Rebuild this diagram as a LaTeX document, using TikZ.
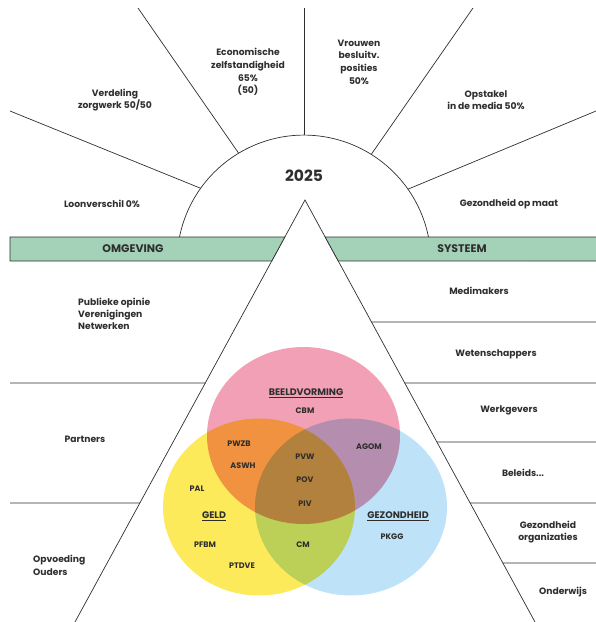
\documentclass[tikz,border=0pt]{standalone}
\usepackage{fontspec}
\setmainfont{Poppins}
\usetikzlibrary{calc}
\definecolor{ink}{HTML}{2E2E2E}
\definecolor{bandgreen}{HTML}{A3D2B8}
\definecolor{vpink}{HTML}{F2A0B5}
\definecolor{vyellow}{HTML}{FDEA5A}
\definecolor{vblue}{HTML}{BEE2F7}

\begin{document}
\begin{tikzpicture}[x=1pt,y=-1pt]
		\tikzstyle{rule}=[draw=ink, line width=0.7pt]
		\tikzstyle{band}=[rule, fill=bandgreen]
		\tikzstyle{txt}=[font=\fontsize{9.2}{12.7}\selectfont\bfseries, text=ink, align=center, inner sep=0pt]
		\tikzstyle{head}=[font=\fontsize{11}{13}\selectfont\bfseries, text=ink, inner sep=0pt]
		\tikzstyle{venn}=[font=\fontsize{8}{9}\selectfont\bfseries, text=ink, inner sep=0pt]
		\tikzstyle{venntitle}=[font=\fontsize{9.5}{11}\selectfont\bfseries, text=ink, inner sep=0pt]
		
		\useasboundingbox (0,0) rectangle (596,622);
		\clip (0,0) rectangle (596,622);
		
		% Halve cirkel (2025)
		\coordinate (c) at (304,262);
		\draw [rule] (179.5,237) arc[start angle=-168.6, end angle=-11.4, radius=127];
		\node[font=\fontsize{15.5}{17}\selectfont\bfseries, text=ink] (year) at (304,176) {2025};
		
		% Stralen
		\draw [rule] (c) ++(-90:127) -- (304,8);
		\draw [rule] (c) ++(-121:127) -- (138,8);
		\draw [rule] (c) ++(-144.5:127) -- (10,111);
		\draw [rule] (c) ++(-58:127) -- (473,8);
		\draw [rule] (c) ++(-35:127) -- (596,111);
		
		\node[txt] (econ) at (248,72) {Economische\\zelfstandigheid\\65\%\\(50)};
		\node[txt] (verdeling) at (115,100) {Verdeling\\zorgwerk 50/50};
		\node[txt] (loon) at (102,204) {Loonverschil 0\%};
		\node[txt] (vrouwen) at (359,62) {Vrouwen\\besluitv.\\posities\\50\%};
		\node[txt] (opstakel) at (486,100) {Opstakel\\in de media 50\%};
		\node[txt] (gezond) at (509,204) {Gezondheid op maat};
		
		% Driehoek
		\coordinate (apex) at (305,200);
		\coordinate (bl) at (75,622);
		\coordinate (br) at (535,622);
		\draw [rule] (bl) -- (apex) -- (br);
		
		% Banden
		\draw [band] (10,237) -- ($(apex)!0.0877!(bl)$) -- ($(apex)!0.1445!(bl)$) -- (10,261) -- cycle;
		\draw [band] ($(apex)!0.0877!(br)$) -- (600,237) -- (600,261) -- ($(apex)!0.1445!(br)$) -- cycle;
		\node[head] (omgeving) at (133,249) {OMGEVING};
		\node[head] (systeem) at (462,249) {SYSTEEM};
		
		% Links (omgeving)
		\draw [rule] (10,383) -- ($(apex)!0.4336!(bl)$);
		\draw [rule] (10,503) -- ($(apex)!0.7180!(bl)$);
		\node[txt, anchor=west, align=left, font=\fontsize{9.2}{12}\selectfont\bfseries] (publiek) at (78,314) {Publieke opinie\\Verenigingen\\Netwerken};
		\node[txt] (partners) at (85,439) {Partners};
		\node[txt, anchor=west, align=left] (opvoeding) at (33,565) {Opvoeding\\Ouders};
		
		% Rechts (systeem)
		\draw [rule] ($(apex)!0.2891!(br)$) -- (596,322);
		\draw [rule] ($(apex)!0.4336!(br)$) -- (596,383);
		\draw [rule] ($(apex)!0.5735!(br)$) -- (596,442);
		\draw [rule] ($(apex)!0.7180!(br)$) -- (596,503);
		\draw [rule] ($(apex)!0.8602!(br)$) -- (596,563);
		\node[txt] (medimakers) at (479,291) {Medimakers};
		\node[txt] (weten) at (496,354) {Wetenschappers};
		\node[txt] (werkgevers) at (509,410) {Werkgevers};
		\node[txt] (beleids) at (523,473) {Beleids...};
		\node[txt] (gezorg) at (548,532) {Gezondheid\\organizaties};
		\node[txt] (onderwijs) at (563,592) {Onderwijs};
		
		% Venn
		\begin{scope}[blend group=multiply]
		\fill [vpink] (303.5,435.5) ellipse[x radius=96.5, y radius=88.5];
		\fill [vyellow] (259,507) ellipse[x radius=96, y radius=88.5];
		\fill [vblue] (351,507) ellipse[x radius=96, y radius=88.5];
		\end{scope}
		
		\node[venntitle] (beeld) at (306,393) {\underline{BEELDVORMING}};
		\node[venn] (cbm) at (305,411) {CBM};
		\node[venn] (pwzb) at (239,444) {PWZB};
		\node[venn] (aswh) at (243,466) {ASWH};
		\node[venn] (agom) at (369,447) {AGOM};
		\node[venn] (pvw) at (305,457) {PVW};
		\node[venn] (pov) at (305,480) {POV};
		\node[venn] (piv) at (305,504) {PIV};
		\node[venn] (pal) at (197,489) {PAL};
		\node[venntitle] (geld) at (214,516) {\underline{GELD}};
		\node[venntitle] (gezondheid) at (398,516) {\underline{GEZONDHEID}};
		\node[venn] (pkgg) at (392,537) {PKGG};
		\node[venn] (pfbm) at (205,545) {PFBM};
		\node[venn] (cm) at (303,545) {CM};
		\node[venn] (ptdve) at (242,566) {PTDVE};
\end{tikzpicture}
\end{document}
